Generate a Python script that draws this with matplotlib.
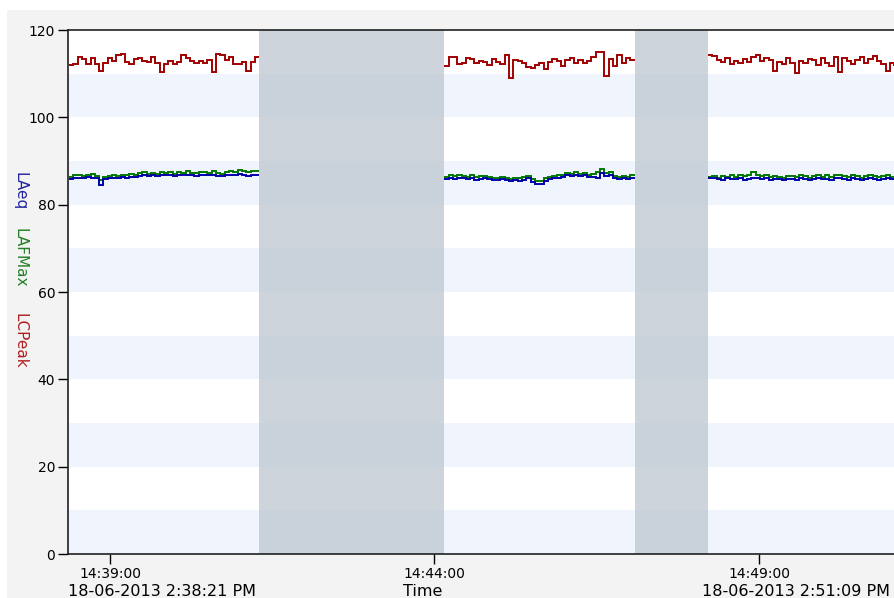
import numpy as np
import matplotlib
matplotlib.use("Agg")
import matplotlib.pyplot as plt
from matplotlib.patches import Rectangle

# sound level log, 4 s samples, three recording segments
# segment start times in seconds relative to 14:39:00
seg_start_sec = [-38, 309, 553]
sample_sec = 4

lcpeak = [
    [112.0, 112.3, 113.9, 113.3, 112.2, 113.6, 112.3, 110.6, 112.5, 113.5, 113.0,
     114.3, 114.5, 112.6, 112.2, 113.4, 113.6, 112.8, 112.6, 113.8, 112.4, 110.4,
     112.3, 113.0, 112.2, 112.6, 114.3, 113.5, 112.8, 112.4, 112.9, 112.4, 113.1,
     110.4, 114.6, 114.2, 113.2, 113.9, 112.2, 112.3, 112.6, 110.6, 112.7, 113.9],
    [111.8, 113.8, 113.9, 112.3, 112.5, 113.6, 113.3, 112.4, 113.0, 112.6, 112.0,
     113.4, 112.7, 112.2, 114.3, 109.0, 113.2, 112.9, 112.5, 111.6, 111.2, 112.0,
     112.5, 111.0, 112.7, 113.3, 112.8, 111.7, 113.2, 113.7, 112.4, 113.1, 112.5,
     113.0, 113.8, 115.0, 114.9, 109.5, 113.4, 111.8, 114.3, 112.5, 113.7, 113.1],
    [114.3, 114.0, 113.2, 112.6, 113.6, 112.2, 113.0, 112.5, 113.4, 112.6, 113.8,
     114.2, 112.9, 113.7, 113.1, 110.5, 112.6, 112.2, 113.5, 112.4, 110.2, 112.9,
     112.4, 113.3, 113.1, 112.0, 113.6, 112.4, 111.8, 113.9, 110.4, 113.6, 112.9,
     112.3, 113.2, 113.8, 112.5, 113.3, 114.1, 113.0, 112.2, 110.7, 112.5, 112.0],
]

laeq = [
    [85.9, 86.0, 86.2, 86.0, 86.3, 86.2, 86.1, 84.5, 85.9, 86.0, 86.2,
     86.0, 86.3, 86.2, 86.4, 86.3, 86.6, 86.8, 86.6, 86.7, 86.6, 86.8,
     86.7, 86.9, 86.6, 86.8, 86.7, 86.9, 86.8, 86.6, 86.9, 86.8, 86.7,
     86.9, 86.6, 86.5, 86.9, 86.8, 86.7, 87.0, 86.9, 86.5, 86.9, 86.9],
    [85.8, 86.0, 85.9, 86.2, 86.0, 85.9, 86.1, 85.6, 85.9, 86.0, 85.8,
     85.7, 85.6, 85.8, 85.6, 85.5, 85.6, 85.4, 85.7, 86.0, 85.2, 84.7,
     84.8, 85.5, 85.8, 86.0, 86.1, 86.3, 86.8, 86.6, 86.9, 86.5, 86.7,
     86.3, 86.4, 86.2, 87.3, 86.6, 86.9, 86.0, 85.8, 86.0, 85.9, 86.0],
    [86.0, 86.1, 85.9, 85.7, 86.0, 85.8, 85.9, 86.1, 85.6, 85.9, 86.2,
     86.0, 85.8, 86.1, 85.7, 85.8, 85.9, 85.6, 85.8, 85.9, 85.7, 86.0,
     85.8, 85.6, 85.9, 86.1, 85.8, 85.9, 85.7, 86.0, 86.1, 85.8, 85.7,
     86.0, 85.9, 85.6, 85.8, 86.0, 85.9, 85.7, 85.8, 86.0, 85.9, 85.8],
]

lafmax = [
    [86.4, 86.7, 86.9, 86.5, 86.8, 87.0, 86.6, 85.6, 86.4, 86.6, 86.8,
     86.5, 86.9, 86.7, 87.0, 86.8, 87.3, 87.4, 87.1, 87.2, 87.1, 87.4,
     87.3, 87.5, 87.1, 87.4, 87.3, 87.6, 87.3, 87.2, 87.5, 87.4, 87.2,
     87.6, 87.3, 87.1, 87.4, 87.6, 87.4, 87.9, 87.7, 87.5, 87.8, 87.8],
    [86.4, 86.7, 86.5, 86.8, 86.6, 86.4, 86.7, 86.3, 86.5, 86.6, 86.3,
     86.2, 86.2, 86.4, 86.0, 85.9, 86.1, 86.0, 86.3, 86.5, 85.9, 85.4,
     85.5, 86.2, 86.4, 86.6, 86.8, 86.8, 87.3, 87.1, 87.4, 87.0, 87.2,
     86.8, 87.0, 87.4, 88.2, 87.3, 87.5, 86.5, 86.3, 86.5, 86.4, 86.7],
    [86.4, 86.6, 86.2, 86.5, 86.3, 86.7, 86.4, 86.8, 86.5, 86.9, 87.4,
     86.8, 86.5, 86.9, 86.3, 86.6, 86.4, 86.2, 86.5, 86.6, 86.3, 86.7,
     86.6, 86.2, 86.5, 86.9, 86.4, 86.8, 86.3, 86.7, 86.9, 86.5, 86.3,
     86.8, 86.6, 86.2, 86.5, 86.7, 86.6, 86.3, 86.5, 86.8, 86.4, 86.3],
]

x_ticks = [0, 300, 600]
x_tick_labels = ["14:39:00", "14:44:00", "14:49:00"]
start_label = "18-06-2013 2:38:21 PM"
end_label = "18-06-2013 2:51:09 PM"
x_min, x_max = -39, 729

W, H = 895, 598
fig = plt.figure(figsize=(W / 100, H / 100), dpi=100, facecolor="white")
fig.patches.append(Rectangle((7 / W, 0), 1, 1 - 9.5 / H, transform=fig.transFigure,
                             facecolor="#f3f3f3", edgecolor="none", zorder=-1))

left_px, right_px = 67.8, 898.5
ax = fig.add_axes([left_px / W, 44 / H, (right_px - left_px) / W, 524 / H])
ax.set_facecolor("white")
ax.set_xlim(x_min, x_max)
ax.set_ylim(0, 120)

# alternating horizontal bands
for y0 in range(0, 120, 20):
    ax.axhspan(y0, y0 + 10, color="#f0f5fd", lw=0, zorder=0)

# gaps between recording segments
seg_edges = []
for s, vals in zip(seg_start_sec, laeq):
    seg_edges.append(s + sample_sec * np.arange(len(vals) + 1))
for i in range(len(seg_edges) - 1):
    ax.axvspan(seg_edges[i][-1], seg_edges[i + 1][0], color="#b9c2cc", alpha=0.7,
               lw=0, zorder=1)

for edges, r, g, b in zip(seg_edges, lcpeak, lafmax, laeq):
    ax.stairs(r, edges, color="#a00000", lw=1.4, baseline=None, zorder=3)
    ax.stairs(g, edges, color="#007800", lw=1.4, baseline=None, zorder=3)
    ax.stairs(b, edges, color="#0000a8", lw=1.4, baseline=None, zorder=4)

ax.set_yticks(range(0, 121, 20))
ax.set_xticks(x_ticks)
ax.set_xticklabels(x_tick_labels)
ax.tick_params(axis="both", direction="out", length=7, width=1, colors="black",
               labelsize=10, pad=2)
for side in ["left", "bottom", "top"]:
    ax.spines[side].set_color("#202020")
    ax.spines[side].set_linewidth(1.2)
ax.spines["right"].set_visible(False)

# y label, one colour per series, reading downwards
fig.text(20 / W, 1 - 172 / H, "LAeq", color="#2323a0", rotation=-90,
         ha="center", va="top", fontsize=11)
fig.text(20 / W, 1 - 228 / H, "LAFMax", color="#238023", rotation=-90,
         ha="center", va="top", fontsize=11)
fig.text(20 / W, 1 - 313 / H, "LCPeak", color="#b02020", rotation=-90,
         ha="center", va="top", fontsize=11)

# time labels under the axis
fig.text(68 / W, 1 - 591 / H, start_label, ha="left", va="center", fontsize=11.5)
fig.text(423 / W, 1 - 591 / H, "Time", ha="center", va="center", fontsize=11.5)
fig.text(890 / W, 1 - 591 / H, end_label, ha="right", va="center", fontsize=11.5)

fig.savefig("out.png", dpi=100)
